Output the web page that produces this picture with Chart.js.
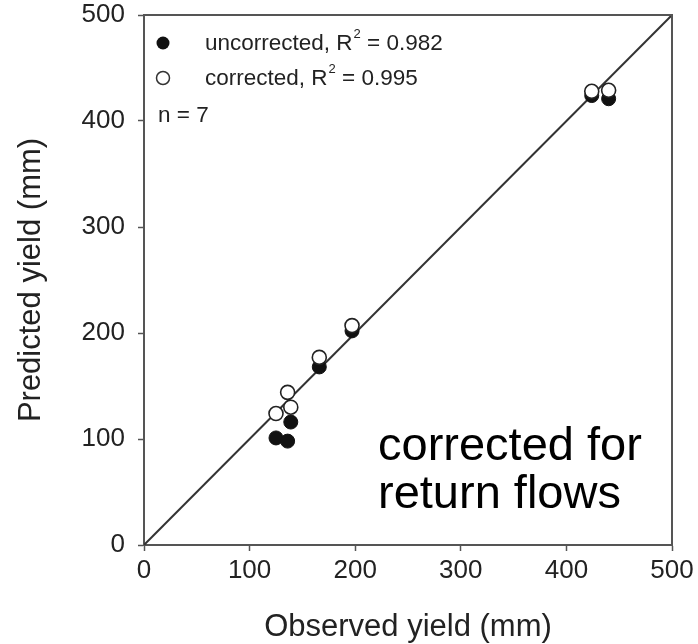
<!DOCTYPE html>
<html>
<head>
<meta charset="utf-8">
<script src="https://cdn.jsdelivr.net/npm/chart.js@4.4.1/dist/chart.umd.min.js"></script>
<style>
  html, body { margin: 0; padding: 0; background: #fff; }
  #wrap { width: 698px; height: 644px; position: relative; }
</style>
</head>
<body>
<div id="wrap"><canvas id="c" width="698" height="644"></canvas></div>
<script>
// ---- data ----
const observed    = [125, 136, 139, 166, 197, 424, 440];
const uncorrected = [101,  98, 116, 168, 202, 424, 421];
const corrected   = [124, 144, 130, 177, 207, 428, 429];
const oneToOne    = [0, 500];
const tickValues  = [0, 100, 200, 300, 400, 500];
const legendLabels = [
  { name: 'uncorrected, R', r2: '0.982' },
  { name: 'corrected, R',   r2: '0.995' }
];
const nLabel = 'n = 7';
const noteLines = ['corrected for', 'return flows'];
const xTitle = 'Observed yield (mm)';
const yTitle = 'Predicted yield (mm)';

const FONT = '"Liberation Sans", Arial, Helvetica, sans-serif';
const AX = '#555';

const pts = (xs, ys) => xs.map((x, i) => ({ x: x, y: ys[i] }));

const framePlugin = {
  id: 'frame',
  afterDatasetsDraw(chart) {
    const { ctx, chartArea: a } = chart;
    ctx.save();
    ctx.strokeStyle = AX;
    ctx.lineWidth = 2;
    ctx.beginPath();
    ctx.moveTo(a.left, a.top);
    ctx.lineTo(a.right, a.top);
    ctx.lineTo(a.right, a.bottom);
    ctx.stroke();
    ctx.restore();
  }
};

const legendPlugin = {
  id: 'innerLegend',
  afterDraw(chart) {
    const { ctx, chartArea: a } = chart;
    const mx = a.left + 19, tx = a.left + 61;
    const rows = [a.top + 35, a.top + 70];
    ctx.save();
    ctx.textBaseline = 'alphabetic';
    ctx.fillStyle = '#222';
    legendLabels.forEach((l, i) => {
      const by = rows[i];
      ctx.beginPath();
      ctx.arc(mx, by - 7, 6.5, 0, Math.PI * 2);
      if (i === 0) { ctx.fillStyle = '#111'; ctx.fill(); }
      else { ctx.fillStyle = '#fff'; ctx.fill(); ctx.strokeStyle = '#333'; ctx.lineWidth = 1.5; ctx.stroke(); }
      ctx.fillStyle = '#222';
      ctx.font = '22.5px ' + FONT;
      ctx.fillText(l.name, tx, by);
      let w = ctx.measureText(l.name).width;
      ctx.font = '13px ' + FONT;
      ctx.fillText('2', tx + w + 1, by - 12);
      w += ctx.measureText('2').width + 1;
      ctx.font = '22.5px ' + FONT;
      ctx.fillText(' = ' + l.r2, tx + w, by);
    });
    ctx.font = '22.5px ' + FONT;
    ctx.fillText(nLabel, a.left + 14, a.top + 107);
    ctx.fillStyle = '#000';
    ctx.font = '47px ' + FONT;
    ctx.fillText(noteLines[0], a.left + 234, a.top + 445);
    ctx.fillText(noteLines[1], a.left + 234, a.top + 493);
    ctx.restore();
  }
};

new Chart(document.getElementById('c'), {
  type: 'scatter',
  data: {
    datasets: [
      {
        label: 'corrected',
        data: pts(observed, corrected),
        pointRadius: 7,
        pointHoverRadius: 7,
        pointBackgroundColor: '#fff',
        pointBorderColor: '#222',
        pointBorderWidth: 1.6,
        order: 0
      },
      {
        label: 'uncorrected',
        data: pts(observed, uncorrected),
        pointRadius: 7,
        pointHoverRadius: 7,
        pointBackgroundColor: '#111',
        pointBorderColor: '#111',
        pointBorderWidth: 1,
        order: 1
      },
      {
        type: 'line',
        label: '1:1',
        data: pts(oneToOne, oneToOne),
        borderColor: '#333',
        borderWidth: 2,
        pointRadius: 0,
        fill: false,
        order: 2
      }
    ]
  },
  options: {
    responsive: false,
    animation: false,
    events: [],
    layout: { padding: { left: 0, right: 26, top: 15, bottom: 0 } },
    plugins: { legend: { display: false }, tooltip: { enabled: false } },
    scales: {
      x: {
        type: 'linear',
        min: 0, max: 500,
        afterFit(s) { s.height = 99; s.paddingLeft = 0; s.paddingRight = 0; },
        afterBuildTicks(s) { s.ticks = tickValues.map(v => ({ value: v })); },
        grid: { drawOnChartArea: false, drawTicks: true, tickLength: 6, tickColor: AX, tickWidth: 1.5 },
        border: { display: true, color: AX, width: 2 },
        ticks: { color: '#222', font: { family: FONT, size: 26 }, padding: 4, maxRotation: 0 },
        title: { display: true, text: xTitle, color: '#222', font: { family: FONT, size: 31, lineHeight: 1 }, padding: { top: 0, bottom: 1 } }
      },
      y: {
        type: 'linear',
        min: 0, max: 500,
        afterFit(s) { s.width = 144; s.paddingTop = 0; s.paddingBottom = 0; },
        afterBuildTicks(s) { s.ticks = tickValues.map(v => ({ value: v })); },
        grid: { drawOnChartArea: false, drawTicks: true, tickLength: 6, tickColor: AX, tickWidth: 1.5 },
        border: { display: true, color: AX, width: 2 },
        ticks: { color: '#222', font: { family: FONT, size: 26 }, padding: 13 },
        title: { display: true, text: yTitle, color: '#222', font: { family: FONT, size: 31, lineHeight: 1 }, padding: { top: 16, bottom: 0 } }
      }
    }
  },
  plugins: [framePlugin, legendPlugin]
});
</script>
</body>
</html>
